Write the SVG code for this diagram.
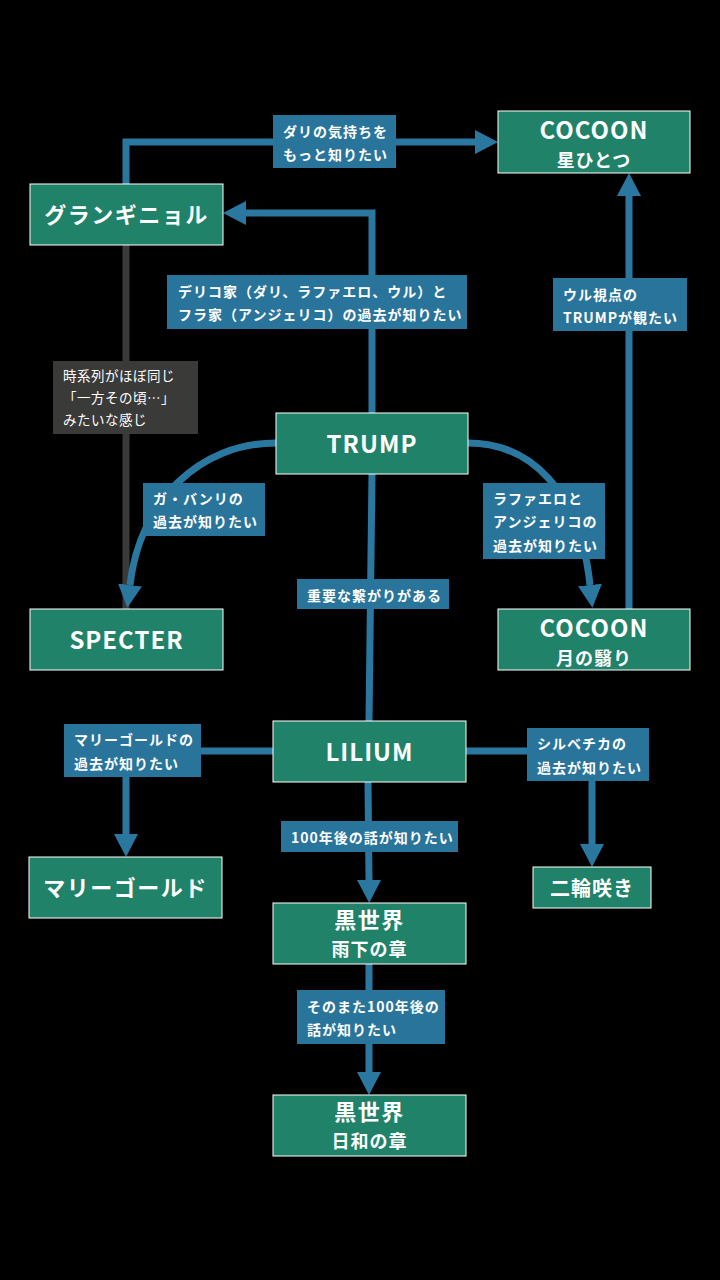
<svg xmlns="http://www.w3.org/2000/svg" width="720" height="1280" viewBox="0 0 720 1280">
<style>
.node rect{fill:#208268;stroke:#ffffff;stroke-width:1}
.nt{font-family:"Noto Sans CJK JP","Noto Sans",sans-serif;font-weight:700;fill:#ffffff;text-anchor:middle;dominant-baseline:central}
.big{font-size:24px;letter-spacing:1px}
.jp{font-size:22px;letter-spacing:1.5px}
.sub{font-size:18px;letter-spacing:1px}
.edge{fill:none;stroke:#2a78a0;stroke-width:7}
.grey{fill:none;stroke:#3a3a38;stroke-width:7}
.lb{fill:#29749b}
.lg{fill:#3a3a38}
.lt{font-family:"Noto Sans CJK JP","Noto Sans",sans-serif;font-weight:700;font-size:14px;letter-spacing:1px;fill:#ffffff;dominant-baseline:central}
.lt2{font-family:"Noto Sans CJK JP","Noto Sans",sans-serif;font-weight:400;font-size:13.5px;letter-spacing:0.5px;fill:#ffffff;dominant-baseline:central}
</style>
<defs>
<marker id="ah" viewBox="0 -12 23 24" markerWidth="23" markerHeight="24" refX="0" refY="0" orient="auto" markerUnits="userSpaceOnUse">
<path d="M0,-12 L23,0 L0,12 Z" fill="#2a78a0"/>
</marker>
</defs>
<rect width="720" height="1280" fill="#000000"/>
<g id="connectors">
<path class="grey" d="M126 245 V609"/>
<path class="edge" d="M126 184 V142 H475" marker-end="url(#ah)"/>
<path class="edge" d="M372 413 V213 H246" marker-end="url(#ah)"/>
<path class="edge" d="M629 609 V196" marker-end="url(#ah)"/>
<path class="edge" d="M276 443 C200 443 140 500 130 585" marker-end="url(#ah)"/>
<path class="edge" d="M468 443 C530 443 580 490 590 585" marker-end="url(#ah)"/>
<path class="edge" d="M372 474 L369 721"/>
<path class="edge" d="M273 751 H126 V834" marker-end="url(#ah)"/>
<path class="edge" d="M466 751 H592 V844" marker-end="url(#ah)"/>
<path class="edge" d="M368 782 L369 880" marker-end="url(#ah)"/>
<path class="edge" d="M369 964 V1072" marker-end="url(#ah)"/>
<g id="labels">
<rect class="lb" x="273" y="115" width="123" height="53"/>
<text class="lt" x="283" y="131">ダリの気持ちを</text>
<text class="lt" x="283" y="154">もっと知りたい</text>
<rect class="lb" x="167" y="275" width="300" height="54"/>
<text class="lt" x="178" y="291">デリコ家（ダリ、ラファエロ、ウル）と</text>
<text class="lt" x="178" y="314">フラ家（アンジェリコ）の過去が知りたい</text>
<rect class="lb" x="553" y="278" width="134" height="53"/>
<text class="lt" x="563" y="294">ウル視点の</text>
<text class="lt" x="563" y="317">TRUMPが観たい</text>
<rect class="lg" x="53" y="361" width="145" height="73"/>
<text class="lt2" x="63" y="375">時系列がほぼ同じ</text>
<text class="lt2" x="63" y="397">「一方その頃…」</text>
<text class="lt2" x="63" y="419">みたいな感じ</text>
<rect class="lb" x="143" y="483" width="122" height="53"/>
<text class="lt" x="153" y="498">ガ・バンリの</text>
<text class="lt" x="153" y="521">過去が知りたい</text>
<rect class="lb" x="483" y="483" width="122" height="76"/>
<text class="lt" x="493" y="498">ラファエロと</text>
<text class="lt" x="493" y="521">アンジェリコの</text>
<text class="lt" x="493" y="545">過去が知りたい</text>
<rect class="lb" x="297" y="579" width="152" height="30"/>
<text class="lt" x="307" y="595">重要な繋がりがある</text>
<rect class="lb" x="64" y="724" width="137" height="53"/>
<text class="lt" x="74" y="739">マリーゴールドの</text>
<text class="lt" x="74" y="763">過去が知りたい</text>
<rect class="lb" x="527" y="728" width="122" height="53"/>
<text class="lt" x="537" y="743">シルベチカの</text>
<text class="lt" x="537" y="767">過去が知りたい</text>
<rect class="lb" x="281" y="821" width="177" height="31"/>
<text class="lt" x="291" y="837">100年後の話が知りたい</text>
<rect class="lb" x="297" y="990" width="148" height="54"/>
<text class="lt" x="307" y="1006">そのまた100年後の</text>
<text class="lt" x="307" y="1029">話が知りたい</text>
</g>
</g>
<g id="n-cocoon-hoshi" class="node">
<rect x="498" y="111" width="192" height="62"/>
<text class="nt big" x="594" y="128">COCOON</text>
<text class="nt sub" x="594" y="158.5">星ひとつ</text>
</g>
<g id="n-grandguignol" class="node">
<rect x="30" y="184" width="193" height="61"/>
<text class="nt jp" x="126.5" y="213">グランギニョル</text>
</g>
<g id="n-trump" class="node">
<rect x="276" y="413" width="192" height="61"/>
<text class="nt big" x="372" y="442">TRUMP</text>
</g>
<g id="n-specter" class="node">
<rect x="30" y="609" width="193" height="61"/>
<text class="nt big" x="126.5" y="638">SPECTER</text>
</g>
<g id="n-cocoon-tsuki" class="node">
<rect x="498" y="609" width="192" height="61"/>
<text class="nt big" x="594" y="626">COCOON</text>
<text class="nt sub" x="594" y="656.5">月の翳り</text>
</g>
<g id="n-lilium" class="node">
<rect x="273" y="721" width="193" height="61"/>
<text class="nt big" x="369.5" y="750">LILIUM</text>
</g>
<g id="n-marigold" class="node">
<rect x="29" y="857" width="193" height="61"/>
<text class="nt jp" x="125.5" y="886">マリーゴールド</text>
</g>
<g id="n-nirin" class="node">
<rect x="533" y="867" width="118" height="41"/>
<text class="nt" style="font-size:20px;letter-spacing:1px" x="592" y="887">二輪咲き</text>
</g>
<g id="n-kuro-uka" class="node">
<rect x="273" y="903" width="193" height="61"/>
<text class="nt jp" x="369.5" y="918">黒世界</text>
<text class="nt sub" x="369.5" y="947.5">雨下の章</text>
</g>
<g id="n-kuro-hiyori" class="node">
<rect x="273" y="1095" width="193" height="61"/>
<text class="nt jp" x="369.5" y="1110">黒世界</text>
<text class="nt sub" x="369.5" y="1139.5">日和の章</text>
</g>
</svg>
